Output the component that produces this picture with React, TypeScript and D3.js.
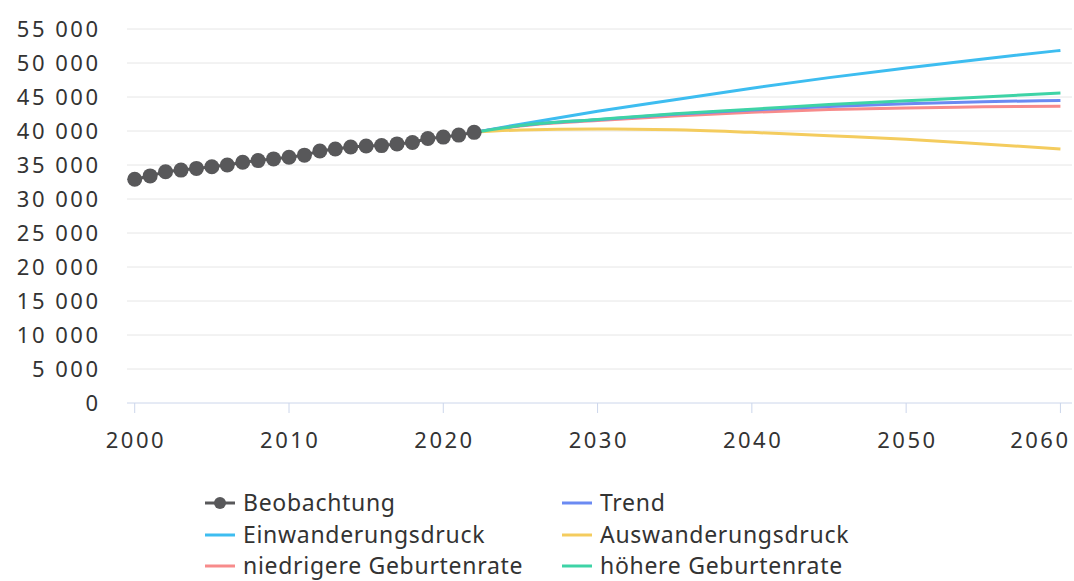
import React from "react";
import * as d3 from "d3";

const obsYears = [2000,2001,2002,2003,2004,2005,2006,2007,2008,2009,2010,2011,2012,2013,2014,2015,2016,2017,2018,2019,2020,2021,2022];
const obsValues = [32900,33400,34000,34250,34500,34750,35000,35400,35650,35900,36150,36450,37050,37350,37650,37800,37850,38100,38300,38900,39100,39400,39800];

const projYears = [2022,2025,2030,2035,2040,2045,2050,2055,2060];
const trend = [39800,40800,41650,42450,43100,43600,44000,44300,44500];
const einwanderung = [39800,41000,42900,44600,46300,47850,49250,50600,51850];
const auswanderung = [39800,40150,40300,40200,39800,39300,38800,38100,37350];
const niedrig = [39800,40750,41550,42200,42750,43150,43400,43550,43650];
const hoeher = [39800,40800,41700,42550,43200,43900,44450,45000,45600];

const yTicks = [0,5000,10000,15000,20000,25000,30000,35000,40000,45000,50000,55000];
const xTicks = [2000,2010,2020,2030,2040,2050,2060];

const seriesNames = ["Beobachtung","Trend","Einwanderungsdruck","Auswanderungsdruck","niedrigere Geburtenrate","höhere Geburtenrate"];
const colors = ["#58585a","#6b8af2","#3dbdf0","#f4cc5e","#f78b8b","#3ed3a6"];

export default function App() {
  const W = 1074, H = 581;
  const x = d3.scaleLinear().domain([1999.5, 2060.75]).range([127, 1072]);
  const y = d3.scaleLinear().domain([0, 55000]).range([403, 29]);
  const font = "'Noto Sans', sans-serif";
  const fmt = (v: number) => d3.format(",")(v).replace(/,/g, " ");
  const line = d3.line<[number, number]>().x(d => x(d[0])).y(d => y(d[1])).curve(d3.curveMonotoneX);
  const proj = [trend, einwanderung, auswanderung, niedrig, hoeher];
  const projColors = [colors[1], colors[2], colors[3], colors[4], colors[5]];
  const drawOrder = [1, 3, 0, 2, 4];
  const obsLine = d3.line<[number, number]>().x(d => x(d[0])).y(d => y(d[1]));
  const obsPts: [number, number][] = obsYears.map((yr, i) => [yr, obsValues[i]]);

  const legendCols = [205, 562];
  const legendRows = [503, 535, 566];
  const numSpacing = 2.5;

  return (
    <svg width={W} height={H} style={{ position: "absolute", left: 0, top: 0, background: "#fff" }} fontFamily={font}>
      {yTicks.map(t => (
        <g key={t}>
          {t > 0 && <line x1={127} x2={1072} y1={y(t)} y2={y(t)} stroke="#e6e6e6" strokeWidth={1} />}
          <text x={98 + numSpacing} y={y(t)} dy="0.36em" textAnchor="end" fontSize={22} letterSpacing={numSpacing} fill="#333">{fmt(t)}</text>
        </g>
      ))}
      <line x1={127} x2={1072} y1={y(0)} y2={y(0)} stroke="#ccd6eb" strokeWidth={1} />
      {xTicks.map(t => (
        <g key={t}>
          <line x1={x(t)} x2={x(t)} y1={y(0)} y2={y(0) + 10} stroke="#ccd6eb" strokeWidth={1} />
          {t === 2060 ? (
            <text x={1068 + numSpacing} y={440} dy="0.36em" textAnchor="end" fontSize={22} letterSpacing={numSpacing} fill="#333">{t}</text>
          ) : (
            <text x={x(t) + numSpacing / 2} y={440} dy="0.36em" textAnchor="middle" fontSize={22} letterSpacing={numSpacing} fill="#333">{t}</text>
          )}
        </g>
      ))}
      {drawOrder.map(i => (
        <path key={i} d={line(projYears.map((yr, j) => [yr, proj[i][j]] as [number, number])) || ""} fill="none" stroke={projColors[i]} strokeWidth={3} />
      ))}
      <path d={obsLine(obsPts) || ""} fill="none" stroke={colors[0]} strokeWidth={3} />
      {obsPts.map((p, i) => (
        <circle key={i} cx={x(p[0])} cy={y(p[1])} r={7.5} fill={colors[0]} />
      ))}
      {seriesNames.map((name, i) => {
        const cx = legendCols[i % 2];
        const cy = legendRows[Math.floor(i / 2)];
        return (
          <g key={name}>
            <line x1={cx} x2={cx + 30} y1={cy} y2={cy} stroke={colors[i]} strokeWidth={3} />
            {i === 0 && <circle cx={cx + 15} cy={cy} r={6} fill={colors[0]} />}
            <text x={cx + 38} y={cy} dy="0.36em" fontSize={23} letterSpacing={0.7} fill="#333">{name}</text>
          </g>
        );
      })}
    </svg>
  );
}
